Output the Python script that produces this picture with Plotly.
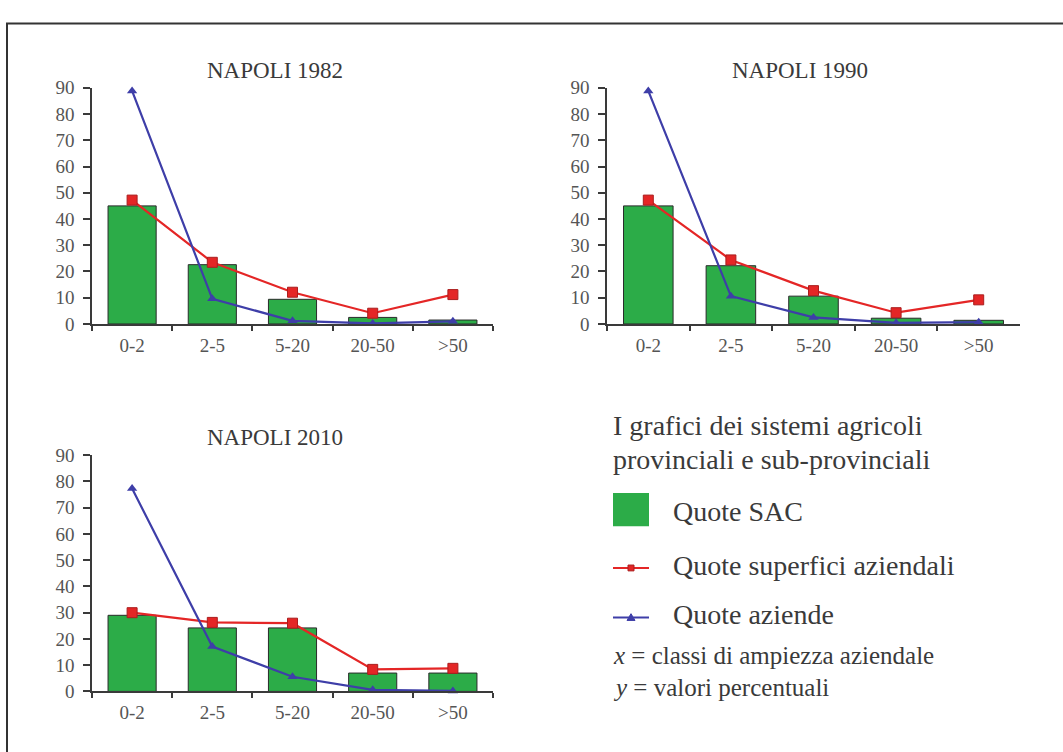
import plotly.graph_objects as go

W, H = 1063, 752

categories = ["0-2", "2-5", "5-20", "20-50", ">50"]
titles = ["NAPOLI 1982", "NAPOLI 1990", "NAPOLI 2010"]

sac_1982 = [45.0, 22.6, 9.4, 2.5, 1.5]
sup_1982 = [47.2, 23.5, 12.1, 4.1, 11.2]
az_1982 = [88.8, 9.6, 1.2, 0.2, 1.0]

sac_1990 = [45.0, 22.2, 10.6, 2.2, 1.4]
sup_1990 = [47.2, 24.4, 12.7, 4.3, 9.2]
az_1990 = [88.8, 10.6, 2.5, 0.4, 0.7]

sac_2010 = [29.0, 24.2, 24.2, 7.0, 7.0]
sup_2010 = [30.0, 26.3, 26.0, 8.4, 8.8]
az_2010 = [77.3, 17.1, 5.6, 0.6, 0.2]

y_ticks = list(range(0, 91, 10))

GREEN = "rgb(44,172,72)"
RED = "rgb(228,38,38)"
BLUE = "rgb(62,62,168)"
AXIS = "#3a3a3a"
TXT = "#3a3a3a"
FONT = "Liberation Serif"


def px(x):
    return x / W


def py(y):
    return 1 - y / H


# panel geometry in pixels: (x_left, x_right, y_top, y_bottom)
panels = [
    (92, 493, 80, 323),
    (607, 1020, 80, 323),
    (92, 493, 458, 701),
]
title_pos = [(275, 62), (800, 62), (275, 440)]
series = [
    (sac_1982, sup_1982, az_1982),
    (sac_1990, sup_1990, az_1990),
    (sac_2010, sup_2010, az_2010),
]

fig = go.Figure()
layout = dict(
    width=W, height=H,
    margin=dict(l=0, r=0, t=0, b=0),
    paper_bgcolor="white", plot_bgcolor="white",
    showlegend=False, bargap=0.4,
    font=dict(family=FONT, color=TXT),
)

annotations = []
shapes = []

for i, ((x0, x1, y0, y1), (sac, sup, az)) in enumerate(zip(panels, series)):
    n = "" if i == 0 else str(i + 1)
    xa, ya = "x" + n, "y" + n
    fig.add_trace(go.Bar(
        x=categories, y=sac, xaxis=xa, yaxis=ya,
        marker=dict(color=GREEN, line=dict(color="#2a2a2a", width=1)),
        width=0.6,
    ))
    fig.add_trace(go.Scatter(
        x=categories, y=sup, xaxis=xa, yaxis=ya, mode="lines+markers",
        line=dict(color=RED, width=2.2),
        marker=dict(symbol="square", size=10, color=RED,
                    line=dict(color="rgb(170,30,30)", width=1)),
        cliponaxis=False,
    ))
    fig.add_trace(go.Scatter(
        x=categories, y=az, xaxis=xa, yaxis=ya, mode="lines+markers",
        line=dict(color=BLUE, width=2.2),
        marker=dict(symbol="triangle-up", size=9, color=BLUE),
        cliponaxis=False,
    ))
    layout["xaxis" + n] = dict(
        domain=[px(x0), px(x1)], anchor=ya, type="category",
        range=[-0.5, 4.5], showline=True, linecolor=AXIS, linewidth=1.5,
        ticks="outside", tickson="boundaries", ticklen=5, tickcolor=AXIS,
        tickwidth=1.5, showgrid=False, zeroline=False,
        tickfont=dict(family=FONT, size=19, color="#555555"),
        ticklabelstandoff=3,
    )
    layout["yaxis" + n] = dict(
        domain=[py(y1), py(y0)], anchor=xa, range=[0, 90],
        tickvals=y_ticks, showline=True, linecolor=AXIS, linewidth=1.5,
        ticks="outside", ticklen=7, tickcolor=AXIS, tickwidth=1.5,
        showgrid=False, zeroline=False,
        tickfont=dict(family=FONT, size=19, color="#555555"),
        ticklabelstandoff=5,
    )
    tx, ty = title_pos[i]
    annotations.append(dict(
        text=titles[i], x=px(tx), y=py(ty), xref="paper", yref="paper",
        showarrow=False, xanchor="center", yanchor="middle",
        font=dict(family=FONT, size=23, color=TXT),
    ))

# outer frame
shapes.append(dict(type="rect", xref="paper", yref="paper",
                   x0=px(7), x1=px(1075), y0=py(765), y1=py(14),
                   line=dict(color="#333333", width=2)))

# legend block
LX = 613
annotations += [
    dict(text="I grafici dei sistemi agricoli", x=px(LX - 2), y=py(427)),
    dict(text="provinciali e sub-provinciali", x=px(LX - 2), y=py(462)),
    dict(text="Quote SAC", x=px(671), y=py(516)),
    dict(text="Quote superfici aziendali", x=px(671), y=py(571)),
    dict(text="Quote aziende", x=px(671), y=py(622)),
]
for a in annotations[-5:]:
    a.update(xref="paper", yref="paper", showarrow=False,
             xanchor="left", yanchor="middle",
             font=dict(family=FONT, size=28, color=TXT))
annotations += [
    dict(text="<i>x</i> = classi di ampiezza aziendale", x=px(LX - 2), y=py(664)),
    dict(text="<i>y</i> = valori percentuali", x=px(LX - 2), y=py(697)),
]
for a in annotations[-2:]:
    a.update(xref="paper", yref="paper", showarrow=False,
             xanchor="left", yanchor="middle",
             font=dict(family=FONT, size=25, color=TXT))

shapes += [
    dict(type="rect", xref="paper", yref="paper",
         x0=px(613), x1=px(649), y0=py(531), y1=py(497),
         fillcolor=GREEN, line=dict(width=0)),
    dict(type="line", xref="paper", yref="paper",
         x0=px(613), x1=px(649), y0=py(574), y1=py(574),
         line=dict(color=RED, width=2)),
    dict(type="rect", xref="paper", yref="paper",
         x0=px(628), x1=px(634), y0=py(577), y1=py(571),
         fillcolor=RED, line=dict(color="rgb(170,30,30)", width=1)),
    dict(type="line", xref="paper", yref="paper",
         x0=px(613), x1=px(649), y0=py(625), y1=py(625),
         line=dict(color=BLUE, width=2)),
    dict(type="path", xref="paper", yref="paper",
         path=f"M {px(627)} {py(628)} L {px(635)} {py(628)} L {px(631)} {py(621)} Z",
         fillcolor=BLUE, line=dict(color=BLUE, width=1)),
]

layout["annotations"] = annotations
layout["shapes"] = shapes
fig.update_layout(**layout)
fig.write_html("out.html")
